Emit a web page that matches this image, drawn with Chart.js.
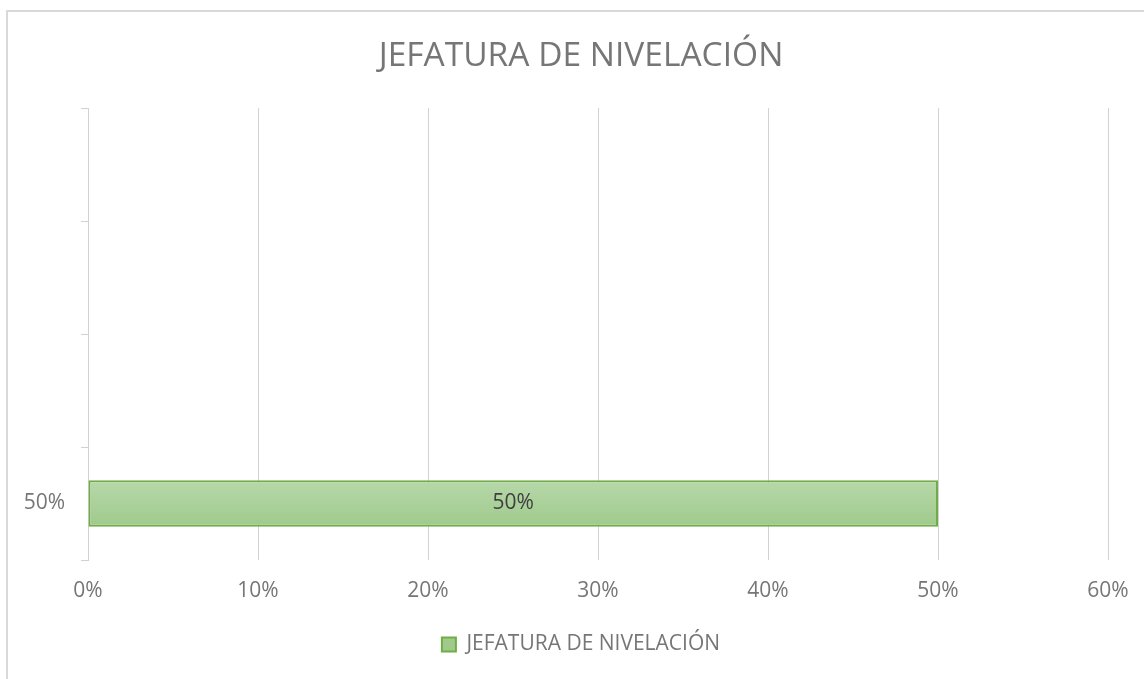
<!DOCTYPE html>
<html>
<head>
<meta charset="utf-8">
<script src="https://cdn.jsdelivr.net/npm/chart.js@4.4.1/dist/chart.umd.min.js"></script>
<style>
  html, body { margin: 0; padding: 0; background: #ffffff; }
  #wrap { position: relative; width: 1144px; height: 679px; overflow: hidden; }
  #frame { position: absolute; left: 6px; top: 10px; width: 1200px; height: 700px;
           border-left: 2px solid #d9d9d9; border-top: 2px solid #d9d9d9; pointer-events: none; }
  canvas { position: absolute; left: 0; top: 0; }
</style>
</head>
<body>
<div id="wrap">
  <canvas id="c" width="1144" height="679"></canvas>
  <div id="frame"></div>
</div>
<script>
// ---- data ----
const chartTitle = "JEFATURA DE NIVELACIÓN";
const seriesName = "JEFATURA DE NIVELACIÓN";
// categories listed bottom to top (as in the original)
const categories = ["50%", "", "", ""];
const values = [0.5, null, null, null];
const dataLabels = ["50%", "", "", ""];
const xTickValues = [0, 0.1, 0.2, 0.3, 0.4, 0.5, 0.6];

const gray = "#767676";
const fontFamily = "'Open Sans', 'Noto Sans', sans-serif";

// data labels inside bars
const barLabelPlugin = {
  id: "barLabels",
  afterDatasetsDraw(chart) {
    const ctx = chart.ctx;
    const meta = chart.getDatasetMeta(0);
    ctx.save();
    ctx.font = "21px " + fontFamily;
    ctx.fillStyle = "#404040";
    ctx.textAlign = "center";
    ctx.textBaseline = "middle";
    meta.data.forEach((el, i) => {
      if (values[i] == null || !dataLabels[i]) return;
      const cx = (el.x + el.base) / 2;
      ctx.fillText(dataLabels[i], cx, el.y);
    });
    ctx.restore();
  }
};

// category labels of the y scale, drawn unclipped to the left of the axis
const yLabelPlugin = {
  id: "yLabels",
  afterDraw(chart) {
    const scale = chart.scales.y;
    const ctx = chart.ctx;
    ctx.save();
    ctx.font = "21px " + fontFamily;
    ctx.fillStyle = gray;
    ctx.textAlign = "right";
    ctx.textBaseline = "middle";
    const x = scale.right - 7 - 16;
    scale.ticks.forEach((t, i) => {
      const label = scale.getLabelForValue(t.value);
      if (!label) return;
      ctx.fillText(label, x, scale.getPixelForTick(i));
    });
    ctx.restore();
  }
};

new Chart(document.getElementById("c"), {
  type: "bar",
  data: {
    labels: categories,
    datasets: [{
      label: seriesName,
      data: values,
      backgroundColor: (c) => {
        if (c.type !== "data") return "#a9d18e";
        const chart = c.chart;
        const ys = chart.scales && chart.scales.y;
        if (!ys || !chart.chartArea) return "#a9d18e";
        const yc = ys.getPixelForValue(c.dataIndex);
        if (!isFinite(yc)) return "#a9d18e";
        const g = chart.ctx.createLinearGradient(0, yc - 23, 0, yc + 23);
        g.addColorStop(0, "#b7d8a9");
        g.addColorStop(1, "#9fca8c");
        return g;
      },
      borderColor: "#70ad47",
      borderWidth: 2,
      borderSkipped: false,
      barPercentage: 0.41,
      categoryPercentage: 1.0
    }]
  },
  options: {
    indexAxis: "y",
    responsive: false,
    animation: false,
    devicePixelRatio: 1,
    layout: { padding: { left: 54, right: 36, top: 0, bottom: 14 } },
    scales: {
      x: {
        min: 0,
        max: 0.6,
        afterBuildTicks: (scale) => { scale.ticks = xTickValues.map(v => ({ value: v })); },
        afterFit: (scale) => { scale.height = 64; scale.paddingRight = 0; scale.paddingLeft = 0; },
        border: { display: false },
        grid: { color: "#d2d2d2", lineWidth: 1, drawTicks: false },
        ticks: {
          color: gray,
          padding: 18,
          font: { family: fontFamily, size: 21 },
          callback: (v) => Math.round(v * 100) + "%"
        }
      },
      y: {
        reverse: true,
        afterFit: (scale) => { scale.width = 34; },
        border: { display: true, color: "#d2d2d2", width: 1 },
        grid: { drawOnChartArea: false, drawTicks: true, tickLength: 7, color: "#d2d2d2", offset: true },
        ticks: { display: false, padding: 16 }
      }
    },
    plugins: {
      title: {
        display: true,
        text: chartTitle,
        color: gray,
        font: { family: fontFamily, size: 33.5, weight: "normal" },
        padding: { top: 36.5, bottom: 31.3 }
      },
      legend: {
        display: true,
        position: "bottom",
        labels: {
          color: gray,
          font: { family: fontFamily, size: 21 },
          boxWidth: 14,
          boxHeight: 14,
          padding: 10
        }
      },
      tooltip: { enabled: false }
    }
  },
  plugins: [barLabelPlugin, yLabelPlugin]
});
</script>
</body>
</html>
